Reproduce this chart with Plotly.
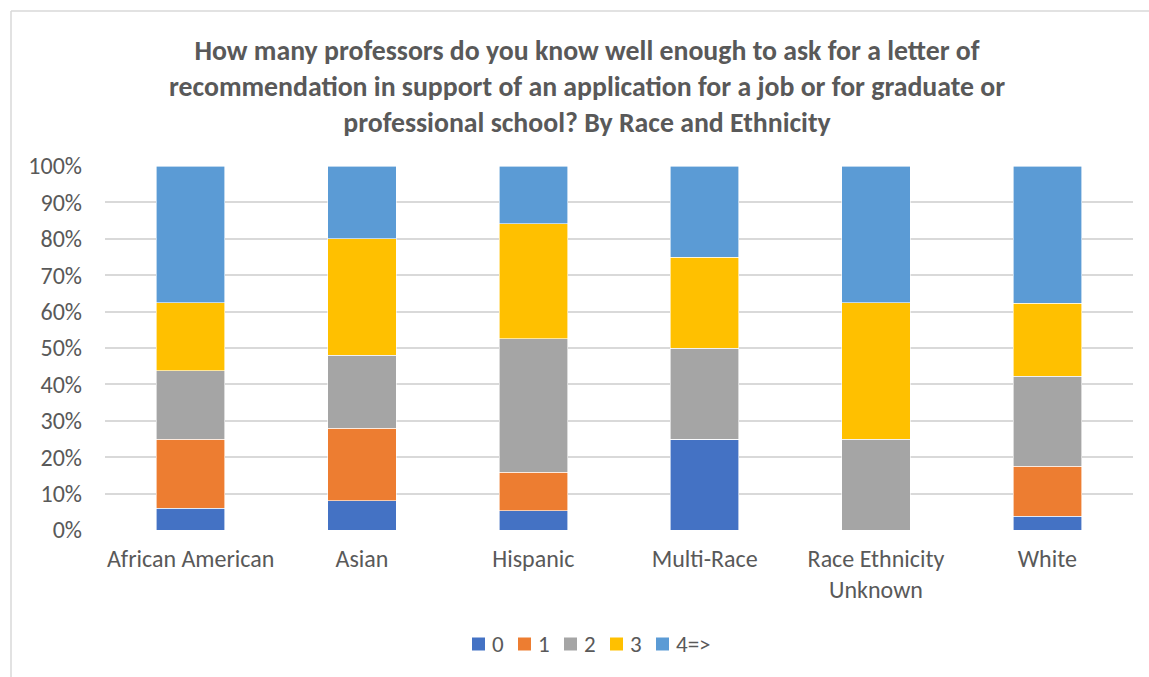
import plotly.graph_objects as go

# Share of respondents (percent) by race/ethnicity and number of professors known
categories = ["African American", "Asian", "Hispanic", "Multi-Race",
              "Race Ethnicity<br>Unknown", "White"]
series_names = ["0", "1", "2", "3", "4=>"]
pct_0 = [6.0, 8.0, 5.3, 25.0, 0.0, 3.8]
pct_1 = [19.0, 20.0, 10.5, 0.0, 0.0, 13.7]
pct_2 = [18.75, 20.0, 36.8, 25.0, 25.0, 24.8]
pct_3 = [18.75, 32.0, 31.6, 25.0, 37.5, 20.0]
pct_4plus = [37.5, 20.0, 15.8, 25.0, 37.5, 37.7]
colors = ["#4472C4", "#ED7D31", "#A5A5A5", "#FFC000", "#5B9BD5"]
y_ticks = [0, 0.1, 0.2, 0.3, 0.4, 0.5, 0.6, 0.7, 0.8, 0.9, 1.0]

TEXT = "#595959"
FONT = "Carlito, Lato, 'Open Sans', sans-serif"

fig = go.Figure()
for name, vals, col in zip(series_names, [pct_0, pct_1, pct_2, pct_3, pct_4plus], colors):
    fig.add_trace(go.Bar(
        x=categories, y=[v / 100 for v in vals], name=name, showlegend=False,
        marker=dict(color=col, line=dict(color="white", width=0.6)),
    ))

W, H = 1149, 677
L, R, T, B = 105, 16, 166, 147
pw, ph = W - L - R, H - T - B

def px_x(p):
    return (p - L) / pw

def px_y(p):
    return (H - B - p) / ph

# Chart border (top and left edges)
shapes = [
    dict(type="line", xref="paper", yref="paper",
         x0=px_x(11), x1=px_x(W + 5), y0=px_y(11), y1=px_y(11),
         line=dict(color="#D9D9D9", width=1.5)),
    dict(type="line", xref="paper", yref="paper",
         x0=px_x(11), x1=px_x(11), y0=px_y(11), y1=px_y(H + 5),
         line=dict(color="#D9D9D9", width=1.5)),
]
annotations = []

# Compact horizontal legend: swatch + label per series
legend_x = [472, 518, 564, 610, 656]
sw, ly = 13, 644
for name, col, x0 in zip(series_names, colors, legend_x):
    shapes.append(dict(type="rect", xref="paper", yref="paper",
                       x0=px_x(x0), x1=px_x(x0 + sw),
                       y0=px_y(ly - sw / 2), y1=px_y(ly + sw / 2),
                       fillcolor=col, line=dict(width=0)))
    annotations.append(dict(text=name, xref="paper", yref="paper",
                            x=px_x(x0 + sw + 5), y=px_y(ly),
                            xanchor="left", yanchor="middle", showarrow=False,
                            font=dict(size=23, color=TEXT, family=FONT)))

fig.update_layout(
    width=W, height=H,
    barmode="stack", bargap=0.6,
    plot_bgcolor="white", paper_bgcolor="white",
    margin=dict(l=L, r=R, t=T, b=B, autoexpand=False),
    font=dict(family=FONT, color=TEXT, size=23),
    title=dict(
        text="How many professors do you know well enough to ask for a letter of<br>"
             "recommendation in support of an application for a job or for graduate or<br>"
             "professional school? By Race and Ethnicity",
        x=px_x(587), xref="paper", xanchor="center",
        y=1 - 60 / H, yanchor="middle",
        font=dict(family=FONT, size=27.8, color=TEXT, weight="bold"),
    ),
    xaxis=dict(showgrid=False, showline=False, ticks="",
               tickfont=dict(size=24, color=TEXT), ticklabelstandoff=12,
               fixedrange=True),
    yaxis=dict(range=[0, 1], tickvals=y_ticks, tickformat=".0%",
               showgrid=True, gridcolor="#D9D9D9", gridwidth=1.5,
               zeroline=False, showline=False, ticks="",
               tickfont=dict(size=24, color=TEXT), ticklabelstandoff=22),
    shapes=shapes,
    annotations=annotations,
)

fig.write_html("out.html")
